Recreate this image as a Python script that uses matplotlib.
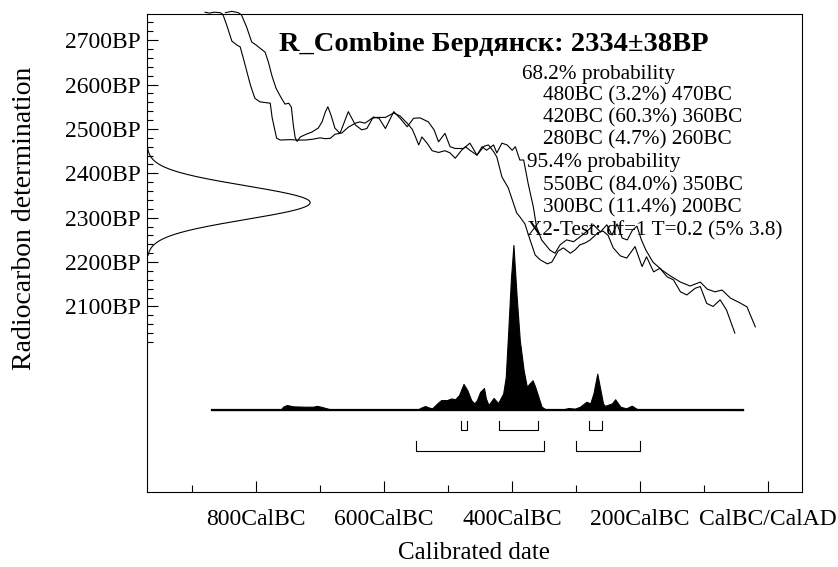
# Courbe de calibration OxCal - R_Combine Бердянск
import matplotlib
matplotlib.use('Agg')
import numpy as np
import matplotlib.pyplot as plt

plt.rcParams['font.family'] = ['Liberation Serif', 'DejaVu Serif']

# Données (années : négatif = BC)
titre = "R_Combine Бердянск: 2334±38BP"
bp_moy, bp_sig = 2334, 38

# bord A de la courbe de calibration
courbe_a_an = [-880, -873, -866, -856, -852, -846, -838, -830, -825, -820, -809, -802, -794, -778,
               -775, -768, -762, -747, -736, -723, -711, -700, -692, -684, -677, -666, -656, -645,
               -638, -630, -619, -611, -598, -585, -575, -564, -556, -551, -546, -541, -533, -525,
               -515, -505, -497, -489, -479, -473, -466, -455, -447, -440, -429, -424, -416, -408,
               -400, -395, -388, -382, -375, -367, -362, -354, -341, -333, -325, -315, -304, -294,
               -281, -273, -262, -252, -244, -236, -228, -220, -212, -205, -198, -191, -180, -166,
               -153, -137, -122, -106, -95, -83, -72, -59, -44, -33, -20]
courbe_a_bp = [2763, 2761, 2763, 2762, 2758, 2734, 2698, 2689, 2685, 2659, 2599, 2569, 2561, 2558,
               2525, 2479, 2475, 2476, 2475, 2475, 2477, 2480, 2478, 2479, 2488, 2491, 2504, 2513,
               2516, 2513, 2524, 2526, 2526, 2536, 2529, 2513, 2499, 2482, 2464, 2482, 2468, 2451,
               2447, 2451, 2446, 2434, 2452, 2460, 2452, 2441, 2460, 2452, 2464, 2446, 2468, 2464,
               2452, 2460, 2430, 2430, 2377, 2325, 2280, 2250, 2227, 2220, 2239, 2250, 2246, 2257,
               2272, 2284, 2268, 2284, 2261, 2286, 2254, 2250, 2272, 2281, 2250, 2227, 2200, 2182,
               2169, 2155, 2146, 2155, 2139, 2133, 2137, 2119, 2108, 2099, 2054]

# bord B de la courbe de calibration
courbe_b_an = [-848, -838, -828, -823, -815, -807, -800, -794, -786, -781, -775, -769, -762, -755,
               -749, -745, -742, -739, -736, -731, -722, -713, -703, -697, -692, -688, -683, -677,
               -669, -656, -645, -635, -627, -617, -608, -598, -585, -575, -564, -554, -544, -531,
               -522, -515, -505, -497, -489, -476, -466, -455, -444, -437, -429, -424, -416, -406,
               -393, -388, -380, -372, -364, -356, -345, -338, -328, -320, -309, -302, -294, -286,
               -278, -266, -258, -250, -242, -231, -221, -208, -197, -190, -179, -169, -158, -148,
               -137, -127, -114, -106, -96, -86, -75, -65, -52]
courbe_b_bp = [2762, 2765, 2762, 2757, 2730, 2696, 2689, 2682, 2673, 2651, 2618, 2592, 2573, 2556,
               2558, 2549, 2509, 2480, 2472, 2482, 2488, 2493, 2502, 2516, 2538, 2550, 2531, 2502,
               2490, 2539, 2509, 2498, 2501, 2527, 2524, 2501, 2539, 2524, 2505, 2524, 2525, 2516,
               2498, 2471, 2490, 2460, 2456, 2456, 2468, 2441, 2461, 2464, 2449, 2437, 2392, 2367,
               2311, 2302, 2286, 2250, 2216, 2205, 2196, 2200, 2225, 2232, 2220, 2227, 2239, 2243,
               2250, 2266, 2270, 2260, 2232, 2214, 2209, 2235, 2190, 2212, 2178, 2186, 2167, 2160,
               2133, 2126, 2141, 2145, 2107, 2100, 2115, 2092, 2040]

# distribution calibrée (normalisée au maximum)
dist_an = [-869, -762, -758, -752, -742, -723, -711, -705, -697, -684, -638, -575, -547, -542,
           -536, -530, -525, -517, -511, -502, -495, -489, -483, -476, -470, -464, -459, -455,
           -450, -444, -441, -437, -429, -422, -414, -410, -406, -402, -398, -393, -388, -382,
           -377, -373, -368, -364, -359, -354, -348, -320, -312, -302, -294, -284, -278, -273,
           -270, -267, -262, -258, -255, -244, -239, -231, -222, -213, -205, -192, -39]
dist_p = [0, 0, 0.02, 0.03, 0.022, 0.02, 0.02, 0.025, 0.018, 0.004, 0.003, 0.003, 0.004, 0.015,
          0.024, 0.015, 0.01, 0.04, 0.06, 0.06, 0.07, 0.065, 0.09, 0.158, 0.12, 0.06, 0.04, 0.06,
          0.11, 0.133, 0.07, 0.03, 0.073, 0.042, 0.1, 0.2, 0.485, 0.79, 1.0, 0.69, 0.42, 0.24,
          0.14, 0.16, 0.18, 0.14, 0.08, 0.02, 0.005, 0.004, 0.012, 0.008, 0.02, 0.05, 0.04, 0.1,
          0.16, 0.22, 0.12, 0.04, 0.025, 0.04, 0.065, 0.02, 0.01, 0.026, 0.006, 0.002, 0]

plages_68 = [(-480, -470), (-420, -360), (-280, -260)]
plages_95 = [(-550, -350), (-300, -200)]

lignes_texte = ["68.2% probability",
                "480BC (3.2%) 470BC",
                "420BC (60.3%) 360BC",
                "280BC (4.7%) 260BC",
                "95.4% probability",
                "550BC (84.0%) 350BC",
                "300BC (11.4%) 200BC",
                "X2-Test: df=1 T=0.2 (5% 3.8)"]

xticks_pos = [-800, -600, -400, -200, 0]
xticks_lab = ["800CalBC", "600CalBC", "400CalBC", "200CalBC", "CalBC/CalAD"]
yticks_pos = [2100, 2200, 2300, 2400, 2500, 2600, 2700]

# Figure
fig = plt.figure(figsize=(8.38, 5.67), dpi=100)
ax = fig.add_axes([0.1751, 0.1323, 0.7820, 0.8430])
ax.set_xlim(-971, 53)
ax.set_ylim(1682, 2759)

ax.plot(courbe_a_an, courbe_a_bp, color='black', lw=0.8, clip_on=False)
ax.plot(courbe_b_an, courbe_b_bp, color='black', lw=0.8, clip_on=False)

# axes
ax.set_xticks(xticks_pos)
ax.set_xticklabels(xticks_lab)
ax.set_xticks([-900, -700, -500, -300, -100], minor=True)
ax.set_yticks(yticks_pos)
ax.set_yticklabels([f"{v}BP" for v in yticks_pos])
ax.set_yticks([v for v in range(2020, 2741, 20) if v % 100 != 0], minor=True)
ax.tick_params(axis='both', which='both', direction='in', labelsize=17, color='black')
ax.tick_params(axis='x', which='major', length=8, width=0.8, pad=12)
ax.tick_params(axis='x', which='minor', length=5, width=0.8)
ax.tick_params(axis='y', which='major', length=8, width=0.8, pad=4)
ax.tick_params(axis='y', which='minor', length=4, width=0.8)
for s in ax.spines.values():
    s.set_linewidth(0.8)

ax.set_xlabel("Calibrated date", fontsize=18, labelpad=9)
ax.set_ylabel("Radiocarbon determination", fontsize=20)
ax.yaxis.set_label_coords(-0.168, 0.573)

# distribution calibrée
ax2 = ax.twinx()
ax2.set_ylim(-0.4969, 2.400)
ax2.axis('off')
ax2.fill_between(dist_an, 0, dist_p, color='black', lw=0.8)
ax2.plot([dist_an[0], dist_an[-1]], [0, 0], color='black', lw=1.6)
for a, b in plages_68:
    ax2.plot([a, a, b, b], [-0.065, -0.121, -0.121, -0.065], color='black', lw=0.8)
for a, b in plages_95:
    ax2.plot([a, a, b, b], [-0.188, -0.248, -0.248, -0.188], color='black', lw=0.8)

# gaussienne de la date radiocarbone
ax3 = ax.twiny()
ax3.set_xlim(0, 4.01)
ax3.axis('off')
bp = np.linspace(2215, 2460, 300)
g = np.exp(-0.5 * ((bp - bp_moy) / bp_sig) ** 2)
ax3.plot(g, bp, color='black', lw=0.8)

# textes
def px(x, y):
    return (x - 146.7) / 655.3, (492 - y) / 478

ax.text(*px(493.5, 44), titre, transform=ax.transAxes, ha='center', va='center',
        fontsize=20.5, fontweight='bold')
pos_texte = [(521.7, 74), (542.7, 96), (542.7, 118), (542.7, 140),
             (526.7, 163), (542.7, 186), (542.7, 208), (526.7, 231)]
for (x, y), t in zip(pos_texte, lignes_texte):
    ax.text(*px(x, y), t, transform=ax.transAxes, ha='left', va='center', fontsize=15.3)

fig.savefig("out.png", dpi=100)
